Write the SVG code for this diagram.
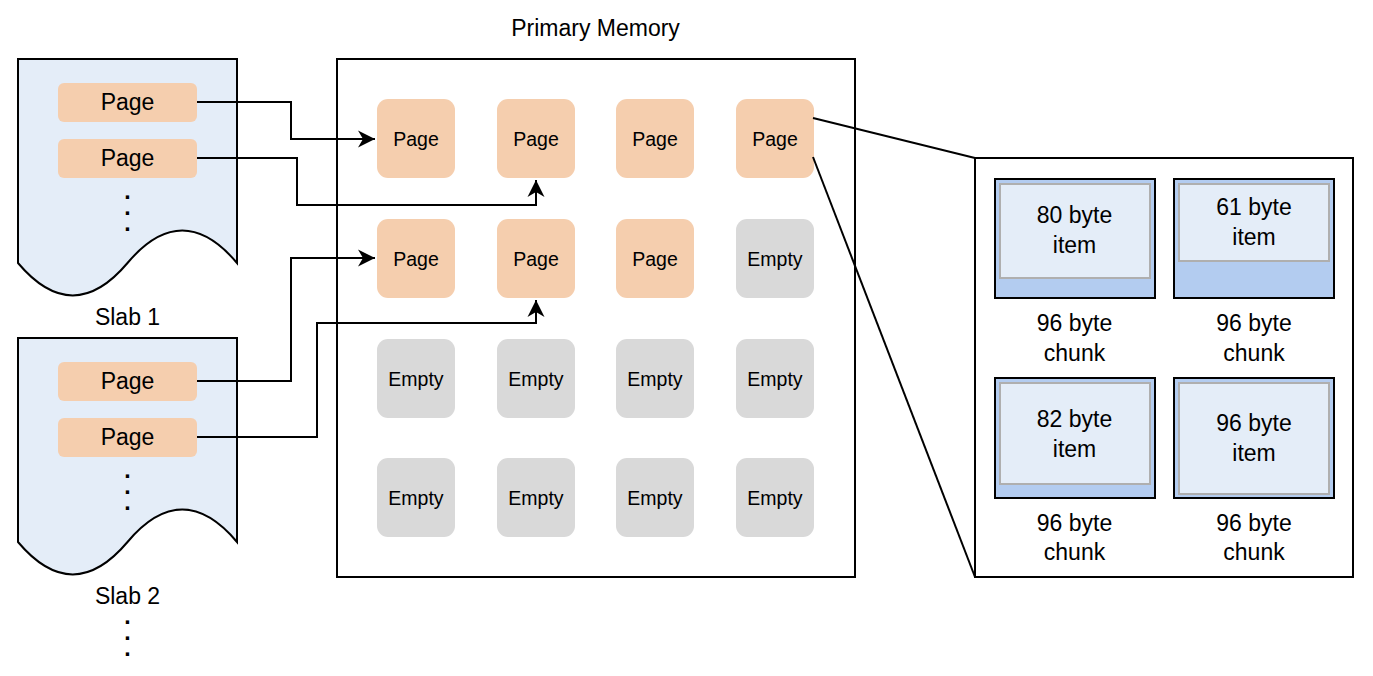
<svg xmlns="http://www.w3.org/2000/svg" width="1373" height="676" viewBox="0 0 1373 676">
<defs>
<style>
text{font-family:"Liberation Sans",Arial,sans-serif;fill:#000;text-anchor:middle}
.t{font-size:23px}
.s{font-size:19.5px}
.d{font-size:23px;font-weight:bold}
.slab{fill:#E4EDF8;stroke:#000;stroke-width:2}
.spage{fill:#F5CEAE}
.page{fill:#F5CEAE}
.empty{fill:#D9D9D9}
.box{fill:#fff;stroke:#000;stroke-width:2}
.chunk{fill:#B3CCF0;stroke:#000;stroke-width:2}
.item{fill:#E4EDF8;stroke:#AFAFAF;stroke-width:2}
.conn{fill:none;stroke:#000;stroke-width:2}
</style>
<marker id="arr" markerUnits="userSpaceOnUse" markerWidth="20" markerHeight="20" viewBox="-18 -10 20 20" refX="0" refY="0" orient="auto">
<path d="M0,0 L-17,-8.5 L-12,0 L-17,8.5 Z" fill="#000"/>
</marker>
</defs>
<rect width="1373" height="676" fill="#fff"/>

<g id="slab1">
<path class="slab" d="M18,59 H237 V263 Q182.25,198.2 127.5,263 Q72.75,327.8 18,263 Z"/>
<rect class="spage" x="58" y="83" width="139" height="39" rx="6"/>
<text class="t" x="127.5" y="110">Page</text>
<rect class="spage" x="58" y="139" width="139" height="39" rx="6"/>
<text class="t" x="127.5" y="166">Page</text>
<text class="d" x="127.5" y="199"><tspan x="127.5">.</tspan><tspan x="127.5" dy="16">.</tspan><tspan x="127.5" dy="16">.</tspan></text>
<text class="t" x="127.5" y="325">Slab 1</text>
</g>

<g id="slab2">
<path class="slab" d="M18,338 H237 V542 Q182.25,477.2 127.5,542 Q72.75,606.8 18,542 Z"/>
<rect class="spage" x="58" y="362" width="139" height="39" rx="6"/>
<text class="t" x="127.5" y="389">Page</text>
<rect class="spage" x="58" y="418" width="139" height="39" rx="6"/>
<text class="t" x="127.5" y="445">Page</text>
<text class="d" x="127.5" y="478"><tspan x="127.5">.</tspan><tspan x="127.5" dy="16">.</tspan><tspan x="127.5" dy="16">.</tspan></text>
<text class="t" x="127.5" y="604">Slab 2</text>
<text class="d" x="127.5" y="624"><tspan x="127.5">.</tspan><tspan x="127.5" dy="16">.</tspan><tspan x="127.5" dy="16">.</tspan></text>
</g>

<g id="primary-memory">
<text class="t" x="595.5" y="36">Primary Memory</text>
<rect class="box" x="337" y="59" width="518" height="518"/>
</g>

<g id="tiles">
<g id="tile-1-1"><rect class="page" x="377" y="99" width="78" height="79" rx="11"/><text class="s" x="416" y="145.5">Page</text></g>
<g id="tile-1-2"><rect class="page" x="497" y="99" width="78" height="79" rx="11"/><text class="s" x="536" y="145.5">Page</text></g>
<g id="tile-1-3"><rect class="page" x="616" y="99" width="78" height="79" rx="11"/><text class="s" x="655" y="145.5">Page</text></g>
<g id="tile-1-4"><rect class="page" x="736" y="99" width="78" height="79" rx="11"/><text class="s" x="775" y="145.5">Page</text></g>
<g id="tile-2-1"><rect class="page" x="377" y="219" width="78" height="79" rx="11"/><text class="s" x="416" y="265.5">Page</text></g>
<g id="tile-2-2"><rect class="page" x="497" y="219" width="78" height="79" rx="11"/><text class="s" x="536" y="265.5">Page</text></g>
<g id="tile-2-3"><rect class="page" x="616" y="219" width="78" height="79" rx="11"/><text class="s" x="655" y="265.5">Page</text></g>
<g id="tile-2-4"><rect class="empty" x="736" y="219" width="78" height="79" rx="11"/><text class="s" x="775" y="265.5">Empty</text></g>
<g id="tile-3-1"><rect class="empty" x="377" y="339" width="78" height="79" rx="11"/><text class="s" x="416" y="385.5">Empty</text></g>
<g id="tile-3-2"><rect class="empty" x="497" y="339" width="78" height="79" rx="11"/><text class="s" x="536" y="385.5">Empty</text></g>
<g id="tile-3-3"><rect class="empty" x="616" y="339" width="78" height="79" rx="11"/><text class="s" x="655" y="385.5">Empty</text></g>
<g id="tile-3-4"><rect class="empty" x="736" y="339" width="78" height="79" rx="11"/><text class="s" x="775" y="385.5">Empty</text></g>
<g id="tile-4-1"><rect class="empty" x="377" y="458" width="78" height="79" rx="11"/><text class="s" x="416" y="504.5">Empty</text></g>
<g id="tile-4-2"><rect class="empty" x="497" y="458" width="78" height="79" rx="11"/><text class="s" x="536" y="504.5">Empty</text></g>
<g id="tile-4-3"><rect class="empty" x="616" y="458" width="78" height="79" rx="11"/><text class="s" x="655" y="504.5">Empty</text></g>
<g id="tile-4-4"><rect class="empty" x="736" y="458" width="78" height="79" rx="11"/><text class="s" x="775" y="504.5">Empty</text></g>
</g>

<g id="page-detail">
<rect class="box" x="975" y="158" width="378" height="419"/>
<g id="chunk1">
<rect class="chunk" x="995" y="179" width="160" height="119"/>
<rect class="item" x="1000" y="184" width="150" height="94"/>
<text class="t" x="1074.5" y="223">80 byte</text>
<text class="t" x="1074.5" y="253">item</text>
<text class="t" x="1074.5" y="331">96 byte</text>
<text class="t" x="1074.5" y="361">chunk</text>
</g>
<g id="chunk2">
<rect class="chunk" x="1174" y="179" width="160" height="119"/>
<rect class="item" x="1179" y="184" width="150" height="77"/>
<text class="t" x="1254" y="215">61 byte</text>
<text class="t" x="1254" y="245">item</text>
<text class="t" x="1254" y="331">96 byte</text>
<text class="t" x="1254" y="361">chunk</text>
</g>
<g id="chunk3">
<rect class="chunk" x="995" y="378" width="160" height="120"/>
<rect class="item" x="1000" y="383" width="150" height="101"/>
<text class="t" x="1074.5" y="427">82 byte</text>
<text class="t" x="1074.5" y="457">item</text>
<text class="t" x="1074.5" y="531">96 byte</text>
<text class="t" x="1074.5" y="560">chunk</text>
</g>
<g id="chunk4">
<rect class="chunk" x="1174" y="378" width="160" height="120"/>
<rect class="item" x="1179" y="383" width="150" height="111"/>
<text class="t" x="1254" y="431">96 byte</text>
<text class="t" x="1254" y="461">item</text>
<text class="t" x="1254" y="531">96 byte</text>
<text class="t" x="1254" y="560">chunk</text>
</g>
</g>

<g id="connectors">
<path class="conn" d="M197,102 H291 V139 H375" marker-end="url(#arr)"/>
<path class="conn" d="M197,158 H297 V205 H536 V180" marker-end="url(#arr)"/>
<path class="conn" d="M197,381 H291 V258 H375" marker-end="url(#arr)"/>
<path class="conn" d="M197,437 H317 V323 H536 V300" marker-end="url(#arr)"/>
<path class="conn" d="M813,118 L975,158"/>
<path class="conn" d="M813,157 L975,577"/>
</g>
</svg>
